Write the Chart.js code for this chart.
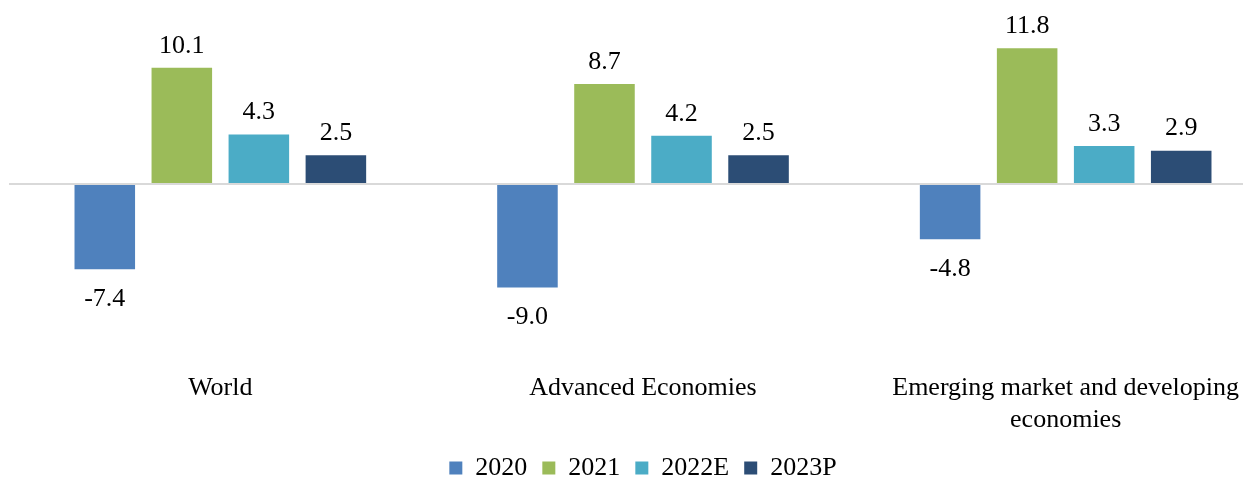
<!DOCTYPE html>
<html>
<head>
<meta charset="utf-8">
<script src="https://cdn.jsdelivr.net/npm/chart.js@4.4.1/dist/chart.umd.min.js"></script>
<style>
  html, body { margin: 0; padding: 0; background: #ffffff; overflow: hidden; }
  #caixa { width: 1287px; height: 483px; }
</style>
</head>
<body>
<div id="caixa"><canvas id="grafico"></canvas></div>
<script>
const categorias = ['World', 'Advanced Economies', ['Emerging market and developing', 'economies']];
const series = ['2020', '2021', '2022E', '2023P'];
const valores2020 = [-7.4, -9.0, -4.8];
const valores2021 = [10.1, 8.7, 11.8];
const valores2022 = [4.3, 4.2, 3.3];
const valores2023 = [2.5, 2.5, 2.9];
const cores = ['#4f81bd', '#9bbb59', '#4bacc6', '#2c4d75'];

const fonteSerif = '"Liberation Serif", "Times New Roman", serif';

const rotulosBarras = {
  id: 'rotulosBarras',
  afterDatasetsDraw(chart) {
    const ctx = chart.ctx;
    ctx.save();
    ctx.font = '26px ' + fonteSerif;
    ctx.fillStyle = '#000000';
    ctx.textAlign = 'center';
    chart.data.datasets.forEach((dataset, i) => {
      const meta = chart.getDatasetMeta(i);
      meta.data.forEach((barra, j) => {
        const valor = dataset.data[j];
        const texto = valor.toFixed(1);
        if (valor >= 0) {
          ctx.textBaseline = 'bottom';
          ctx.fillText(texto, barra.x, barra.y - 9);
        } else {
          ctx.textBaseline = 'top';
          ctx.fillText(texto, barra.x, barra.y + 17);
        }
      });
    });
    ctx.restore();
  },
};

const dadosSeries = [valores2020, valores2021, valores2022, valores2023];

new Chart(document.querySelector('#grafico'), {
  type: 'bar',
  data: {
    labels: categorias,
    datasets: series.map((nome, i) => ({
      label: nome,
      data: dadosSeries[i],
      backgroundColor: cores[i],
      borderWidth: 0,
      barPercentage: 0.786,
      categoryPercentage: 0.729,
    })),
  },
  options: {
    responsive: true,
    maintainAspectRatio: false,
    animation: false,
    layout: {
      padding: { left: 9, right: 10, top: 0, bottom: -8 },
    },
    scales: {
      x: {
        grid: { display: false, drawTicks: false },
        border: { display: false },
        ticks: {
          color: '#000000',
          font: { family: fonteSerif, size: 26, lineHeight: 1.23 },
          padding: 4,
          maxRotation: 0,
          autoSkip: false,
        },
      },
      y: {
        min: -16,
        max: 16,
        border: { display: false },
        grid: {
          drawTicks: false,
          lineWidth: 2,
          color: (c) => (c.tick && c.tick.value === 0 ? '#d9d9d9' : 'rgba(0,0,0,0)'),
        },
        ticks: { display: false, stepSize: 2 },
      },
    },
    plugins: {
      legend: {
        position: 'bottom',
        labels: {
          color: '#000000',
          boxWidth: 13,
          boxHeight: 13,
          padding: 15,
          font: { family: fonteSerif, size: 26 },
        },
      },
      tooltip: { enabled: false },
    },
  },
  plugins: [rotulosBarras],
});
</script>
</body>
</html>
